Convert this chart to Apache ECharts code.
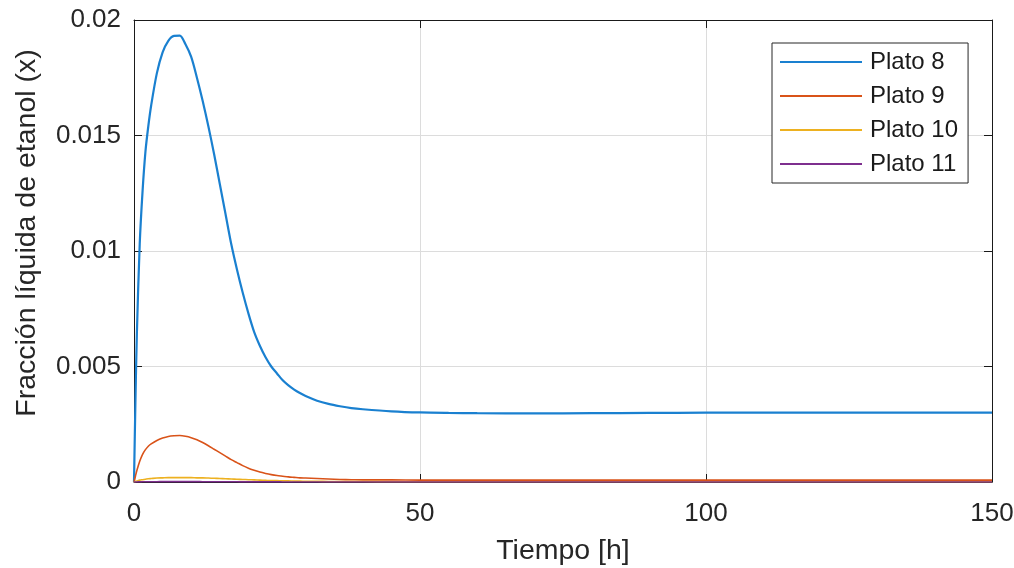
<!DOCTYPE html>
<html>
<head>
<meta charset="utf-8">
<script src="https://cdn.jsdelivr.net/npm/echarts@6/dist/echarts.min.js"></script>
<style>
    html, body { margin: 0; padding: 0; background: #fff; }
    #chart { width: 1014px; height: 568px; }
</style>
</head>
<body>
<div id="chart"></div>
<script>
// tiempo [h]
const tiempo = [0, 0.25, 0.5, 1, 1.5, 2, 2.5, 3,
    4, 5, 6, 7, 8, 9, 10, 11, 12, 13, 14, 15, 16, 17, 18, 19, 20,
    21, 22, 23, 24, 25, 26, 27, 28, 29, 30,
    32, 34, 36, 38, 40,
    45, 50, 55, 60, 70, 80, 90, 100, 110, 120, 130, 140, 150];

const plato8 = [0, 0.0035, 0.0064, 0.0103, 0.0126, 0.0143, 0.0154, 0.0163,
    0.0177, 0.0186, 0.0191, 0.01931, 0.01932, 0.01895, 0.0184, 0.0175, 0.0165, 0.0154, 0.0142, 0.0129, 0.0116, 0.0103, 0.0092, 0.0082, 0.0073,
    0.0065, 0.0059, 0.0054, 0.0050, 0.0047, 0.0044, 0.00418, 0.004, 0.00385, 0.00372,
    0.00352, 0.00338, 0.00328, 0.0032, 0.00315,
    0.00306, 0.00301, 0.00299, 0.00298, 0.00297, 0.00298, 0.00299, 0.003, 0.003, 0.003, 0.003, 0.003, 0.003];

const plato9 = [0, 0.00025, 0.0005, 0.0009, 0.0012, 0.0014, 0.00155, 0.00165,
    0.0018, 0.0019, 0.00197, 0.002, 0.00201, 0.00198, 0.00192, 0.00183, 0.00171, 0.00157, 0.00142, 0.00127, 0.00112, 0.00097, 0.00084, 0.00071, 0.0006,
    0.00051, 0.00043, 0.00037, 0.00032, 0.00028, 0.00025, 0.00022, 0.0002, 0.00018, 0.00017,
    0.00015, 0.00013, 0.00011, 0.0001, 0.00009,
    0.00009, 0.00008, 0.00008, 0.00008, 0.00008, 0.00008, 0.00008, 0.00008, 0.00008, 0.00008, 0.00008, 0.00008, 0.00008];

const plato10 = [0, 0.00002, 0.00004, 0.00008, 0.0001, 0.00012, 0.00014, 0.00015,
    0.00017, 0.00018, 0.00019, 0.00019, 0.00019, 0.00019, 0.00019, 0.00018, 0.00018, 0.00017, 0.00016, 0.00015, 0.00014, 0.00013, 0.00012, 0.00011, 0.0001,
    0.00009, 0.00008, 0.00007, 0.00006, 0.00006, 0.00005, 0.00005, 0.00004, 0.00004, 0.00003,
    0.00003, 0.00002, 0.00002, 0.00002, 0.00002,
    0.00001, 0.00001, 0.00001, 0.00001, 0.00001, 0.00001, 0.00001, 0.00001, 0.00001, 0.00001, 0.00001, 0.00001, 0.00001];

const plato11 = [0, 0.000002, 0.000003, 0.000006, 0.000008, 0.00001, 0.000011, 0.000012,
    0.000014, 0.000015, 0.000016, 0.000016, 0.000016, 0.000016, 0.000015, 0.000015, 0.000014, 0.000013, 0.000012, 0.000011, 0.00001, 0.000009, 0.000008, 0.000007, 0.000006,
    0.000006, 0.000005, 0.000005, 0.000004, 0.000004, 0.000003, 0.000003, 0.000003, 0.000002, 0.000002,
    0.000002, 0.000002, 0.000001, 0.000001, 0.000001,
    0.000001, 0.000001, 0, 0, 0, 0, 0, 0, 0, 0, 0, 0, 0];

const nombres = ['Plato 8', 'Plato 9', 'Plato 10', 'Plato 11'];
const colores = ['#1a80d0', '#D95319', '#EDB120', '#7E2F8E'];
const xTicks = [0, 50, 100, 150];
const yTicks = [0, 0.005, 0.01, 0.015, 0.02];

const fuente = "'Liberation Sans', Arial, sans-serif";
const colorTexto = '#262626';

const pares = vals => tiempo.map((t, i) => [t, vals[i]]);

const myChart = echarts.init(document.getElementById('chart'), null, { renderer: 'canvas' });

const ejeX = {
    type: 'value',
    min: xTicks[0],
    max: xTicks[xTicks.length - 1],
    interval: 50,
    axisLine: { show: true, onZero: false, lineStyle: { color: '#1a1a1a', width: 1 } },
    axisTick: { show: true, inside: true, length: 8, lineStyle: { color: '#1a1a1a' } },
    splitLine: { show: false },
};
const ejeY = {
    type: 'value',
    min: yTicks[0],
    max: yTicks[yTicks.length - 1],
    interval: 0.005,
    axisLine: { show: true, onZero: false, lineStyle: { color: '#1a1a1a', width: 1 } },
    axisTick: { show: true, inside: true, length: 8, lineStyle: { color: '#1a1a1a' } },
    splitLine: { show: false },
};

const option = {
    animation: false,
    backgroundColor: '#fff',
    color: colores,
    grid: {
        left: 134,
        right: 22,
        top: 20,
        bottom: 86,
        containLabel: false,
        outerBoundsMode: 'none',
    },
    legend: {
        left: 772,
        top: 43,
        orient: 'vertical',
        data: nombres,
        icon: 'rect',
        itemWidth: 82,
        itemHeight: 2,
        itemGap: 10,
        padding: [7, 10, 7, 8],
        borderColor: '#262626',
        borderWidth: 1,
        backgroundColor: '#fff',
        textStyle: {
            fontFamily: fuente,
            fontSize: 24,
            lineHeight: 24,
            color: '#1a1a1a',
            padding: [0, 0, 0, 3],
        },
    },
    xAxis: [
        Object.assign({}, ejeX, {
            position: 'bottom',
            name: 'Tiempo [h]',
            nameLocation: 'middle',
            nameGap: 55,
            nameTextStyle: { fontFamily: fuente, fontSize: 28.5, color: colorTexto },
            axisLabel: { fontFamily: fuente, fontSize: 26, color: colorTexto, margin: 19 },
            splitLine: { show: true, lineStyle: { color: '#dcdcdc', width: 1 } },
        }),
        Object.assign({}, ejeX, { position: 'top', axisLabel: { show: false } }),
    ],
    yAxis: [
        Object.assign({}, ejeY, {
            position: 'left',
            name: 'Fracción líquida de etanol (x)',
            nameLocation: 'middle',
            nameGap: 92,
            nameRotate: 90,
            nameTextStyle: {
                fontFamily: fuente,
                fontSize: 28.5,
                color: colorTexto,
                padding: [0, 0, 0, 36],
            },
            axisLabel: {
                fontFamily: fuente,
                fontSize: 26,
                color: colorTexto,
                margin: 13,
                formatter: v => String(parseFloat(v.toFixed(4))),
            },
            splitLine: { show: true, lineStyle: { color: '#dcdcdc', width: 1 } },
        }),
        Object.assign({}, ejeY, { position: 'right', axisLabel: { show: false } }),
    ],
    series: [plato8, plato9, plato10, plato11].map((vals, i) => ({
        name: nombres[i],
        type: 'line',
        xAxisIndex: 0,
        yAxisIndex: 0,
        data: pares(vals),
        showSymbol: false,
        smooth: 0.3,
        lineStyle: { width: i === 0 ? 2.2 : 1.6, color: colores[i] },
        itemStyle: { color: colores[i] },
    })),
};

myChart.setOption(option);
</script>
</body>
</html>
